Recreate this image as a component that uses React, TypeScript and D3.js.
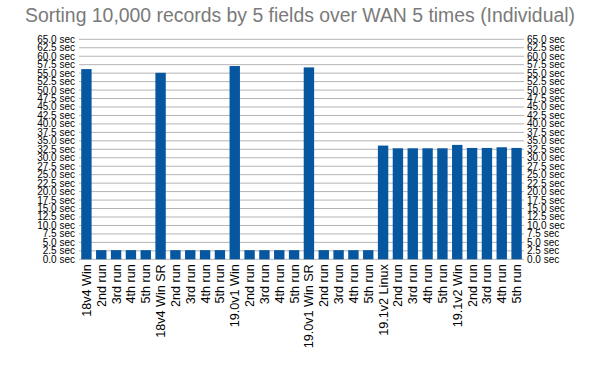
import React from "react";
import * as d3 from "d3";

const categories = [
  "18v4 Win", "2nd run", "3rd run", "4th run", "5th run",
  "18v4 Win SR", "2nd run", "3rd run", "4th run", "5th run",
  "19.0v1 Win", "2nd run", "3rd run", "4th run", "5th run",
  "19.0v1 Win SR", "2nd run", "3rd run", "4th run", "5th run",
  "19.1v2 Linux", "2nd run", "3rd run", "4th run", "5th run",
  "19.1v2 Win", "2nd run", "3rd run", "4th run", "5th run",
];
const values = [
  56.2, 2.7, 2.7, 2.7, 2.7,
  55.1, 2.7, 2.7, 2.7, 2.7,
  57.1, 2.7, 2.7, 2.7, 2.7,
  56.7, 2.7, 2.7, 2.7, 2.7,
  33.6, 32.8, 32.8, 32.8, 32.8,
  33.8, 32.9, 32.9, 33.1, 32.9,
];
const yTicks = d3.range(0, 65.01, 2.5);
const title = "Sorting 10,000 records by 5 fields over WAN 5 times (Individual)";

export default function App() {
  const W = 600, H = 378;
  const left = 79, right = 524, top = 39.3, bottom = 259.3;
  const x = d3.scaleBand<number>().domain(d3.range(categories.length)).range([left, right]).paddingInner(0.3).paddingOuter(0.15);
  const y = d3.scaleLinear().domain([0, 65]).range([bottom, top]);
  const font = "'Liberation Sans', Arial, sans-serif";
  return (
    <svg width={W} height={H} style={{ position: "absolute", left: 0, top: 0, background: "#fff" }} fontFamily={font}>
      <text x={300} y={22} textAnchor="middle" fontSize={19.4} fill="#7a7a7a">{title}</text>
      {yTicks.map((t) => (
        <g key={t}>
          <line x1={left} x2={right} y1={y(t)} y2={y(t)} stroke="#b3b3b3" strokeWidth={1} />
          <text x={left - 4} y={y(t)} dy="0.35em" textAnchor="end" fontSize={10} fill="#000">{t.toFixed(1)} sec</text>
          <text x={right + 3} y={y(t)} dy="0.35em" textAnchor="start" fontSize={10} fill="#000">{t.toFixed(1)} sec</text>
        </g>
      ))}
      {values.map((v, i) => (
        <rect key={i} x={x(i)} y={y(v)} width={x.bandwidth()} height={y(0) - y(v)} fill="#0656a0" />
      ))}
      {categories.map((c, i) => {
        const cx = (x(i) as number) + x.bandwidth() / 2;
        return (
          <text key={i} transform={`translate(${cx},${bottom + 5}) rotate(-90)`} textAnchor="end" dy="0.35em" fontSize={12.6} fill="#000">{c}</text>
        );
      })}
    </svg>
  );
}
